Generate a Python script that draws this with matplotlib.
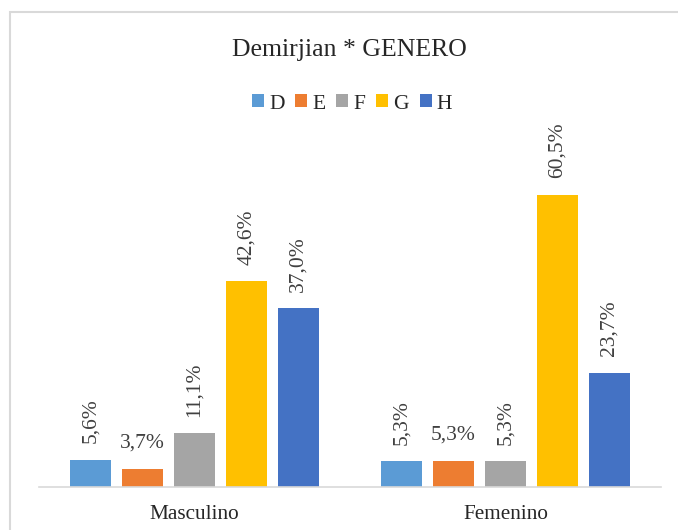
import matplotlib.pyplot as plt
import numpy as np
from matplotlib.patches import Rectangle

plt.rcParams['font.family'] = ['Liberation Serif', 'DejaVu Serif']

categories = ['Masculino', 'Femenino']
series = ['D', 'E', 'F', 'G', 'H']
values = {
    'D': [5.6, 5.3],
    'E': [3.7, 5.3],
    'F': [11.1, 5.3],
    'G': [42.6, 60.5],
    'H': [37.0, 23.7],
}
colors = ['#5B9BD5', '#ED7D31', '#A5A5A5', '#FFC000', '#4472C4']
rotate_label = {'D': True, 'E': False, 'F': True, 'G': True, 'H': True}

fig = plt.figure(figsize=(6.78, 5.30), dpi=100)
ax = fig.add_axes([39 / 678, 1 - 487 / 530, 622 / 678, 338 / 530])

# light frame round the chart area (bottom edge falls outside the picture)
fig.patches.append(Rectangle((10 / 678, -0.1), 1.0, 1.1 - 12 / 530, transform=fig.transFigure,
                             fill=False, edgecolor='#D9D9D9', linewidth=1.5))

x = np.arange(len(categories))
width = 0.132
step = 0.167
for i, (s, c) in enumerate(zip(series, colors)):
    pos = x + (i - 2) * step
    ax.bar(pos, values[s], width=width, color=c, label=s, zorder=2)
    for xp, v in zip(pos, values[s]):
        txt = f'{v:.1f}%'.replace('.', ',')
        rot = 90 if rotate_label[s] else 0
        ax.annotate(txt, (xp, v), xytext=(0, 12), textcoords='offset points',
                    rotation=rot, ha='center', va='bottom', fontsize=15.5, color='#404040')

ax.set_xlim(-0.5, 1.5)
ax.set_ylim(0, 70)
ax.set_xticks(x)
ax.set_xticklabels(categories, fontsize=15.3, color='#262626')
ax.tick_params(axis='x', length=0, pad=13)
ax.set_yticks([])
for sp in ['top', 'right', 'left']:
    ax.spines[sp].set_visible(False)
ax.spines['bottom'].set_color('#D9D9D9')
ax.spines['bottom'].set_linewidth(1.2)

fig.text(349 / 678, 1 - 50 / 530, 'Demirjian * GENERO', ha='center', va='center',
         fontsize=18.5, color='#262626')
fig.legend(loc='center', bbox_to_anchor=(352 / 678, 1 - 104 / 530), ncol=5, frameon=False,
           fontsize=15.5, handlelength=0.55, handleheight=0.55, handletextpad=0.25,
           columnspacing=0.5, labelcolor='#262626')

fig.savefig('out.png', dpi=100)
